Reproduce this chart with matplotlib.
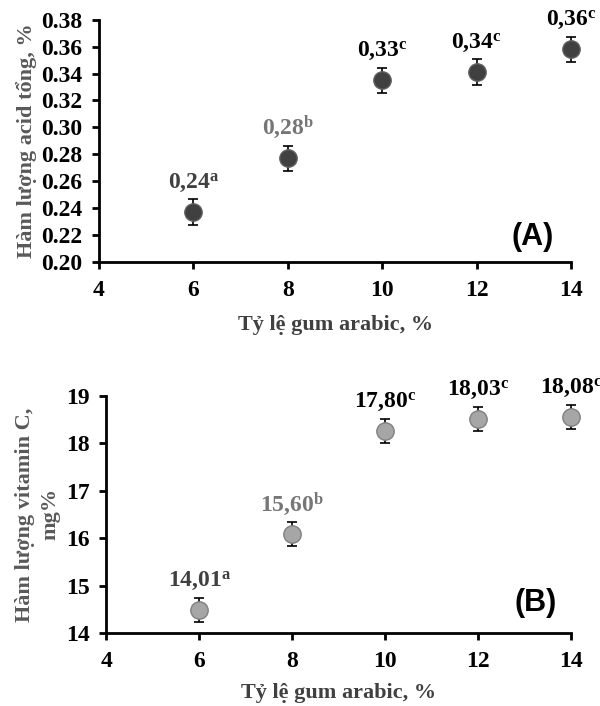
import matplotlib.pyplot as plt

# 数据
gum_ratio = [6, 8, 10, 12, 14]

acid_mean = [0.237, 0.277, 0.335, 0.341, 0.358]
acid_err = [0.0095, 0.0095, 0.0095, 0.0095, 0.0095]
acid_labels = ['0,24', '0,28', '0,33', '0,34', '0,36']
acid_letters = ['a', 'b', 'c', 'c', 'c']

vitc_mean = [14.49, 16.09, 18.26, 18.51, 18.56]
vitc_err = [0.25, 0.25, 0.25, 0.25, 0.25]
vitc_labels = ['14,01', '15,60', '17,80', '18,03', '18,08']
vitc_letters = ['a', 'b', 'c', 'c', 'c']

x_ticks = [4, 6, 8, 10, 12, 14]
acid_ticks = [0.20, 0.22, 0.24, 0.26, 0.28, 0.30, 0.32, 0.34, 0.36, 0.38]
vitc_ticks = [14, 15, 16, 17, 18, 19]

plt.rcParams['font.family'] = ['Liberation Serif', 'DejaVu Serif']
plt.rcParams['font.weight'] = 'bold'
plt.rcParams['mathtext.fontset'] = 'custom'
plt.rcParams['mathtext.rm'] = 'Liberation Serif:bold'
plt.rcParams['mathtext.bf'] = 'Liberation Serif:bold'
plt.rcParams['mathtext.it'] = 'Liberation Serif:bold'

label_colors = ['#404040', '#767676', 'black', 'black', 'black']

fig = plt.figure(figsize=(6, 7.06), dpi=100)
ax1 = fig.add_axes([0.165, 0.629, 0.787, 0.343])
ax2 = fig.add_axes([0.177, 0.1034, 0.775, 0.336])


def style_axis(ax, yticks, ylim, fmt):
    for side in ['top', 'right']:
        ax.spines[side].set_visible(False)
    for side in ['left', 'bottom']:
        ax.spines[side].set_linewidth(2)
    ax.set_xlim(4, 14)
    ax.set_ylim(*ylim)
    ax.set_xticks(x_ticks)
    ax.set_yticks(yticks)
    ax.set_yticklabels([fmt.format(v) for v in yticks])
    ax.tick_params(direction='out', width=2, length=5, labelsize=17)
    ax.tick_params(axis='x', pad=8)
    ax.tick_params(axis='y', pad=7)
    for lab in ax.get_xticklabels() + ax.get_yticklabels():
        lab.set_fontweight('bold')


# (A) 总酸含量
ax1.errorbar(gum_ratio, acid_mean, yerr=acid_err, fmt='o', ms=12.5,
             mfc='#404040', mec='#5f5f5f', ecolor='black', elinewidth=1.2,
             capsize=3.8, capthick=1.2, clip_on=False, zorder=3)
for x, y, e, t, l, c in zip(gum_ratio, acid_mean, acid_err, acid_labels, acid_letters, label_colors):
    ax1.annotate(t + r'$^{\mathrm{' + l + '}}$', (x, y + e), xytext=(0, 8),
                 textcoords='offset points', ha='center', va='baseline',
                 fontsize=17, fontweight='bold', color=c, annotation_clip=False)
style_axis(ax1, acid_ticks, (0.20, 0.38), '{:.2f}')
ax1.set_xlabel('Tỷ lệ gum arabic, %', fontsize=16, fontweight='bold', color='#404040', labelpad=10)
ax1.set_ylabel('Hàm lượng acid tổng, %', fontsize=16, fontweight='bold', color='#595959', labelpad=3)
ax1.text(0.919, 0.103, '(A)', transform=ax1.transAxes, ha='center', va='center',
         fontsize=22, fontweight='bold', family='Liberation Sans')

# (B) 维生素C含量
ax2.errorbar(gum_ratio, vitc_mean, yerr=vitc_err, fmt='o', ms=12.5,
             mfc='#a6a6a6', mec='#808080', ecolor='black', elinewidth=1.2,
             capsize=3.8, capthick=1.2, clip_on=False, zorder=3)
for x, y, e, t, l, c in zip(gum_ratio, vitc_mean, vitc_err, vitc_labels, vitc_letters, label_colors):
    ax2.annotate(t + r'$^{\mathrm{' + l + '}}$', (x, y + e), xytext=(0, 8),
                 textcoords='offset points', ha='center', va='baseline',
                 fontsize=17, fontweight='bold', color=c, annotation_clip=False)
style_axis(ax2, vitc_ticks, (14, 19), '{:d}')
ax2.set_xlabel('Tỷ lệ gum arabic, %', fontsize=16, fontweight='bold', color='#404040', labelpad=8)
ax2.set_ylabel('Hàm lượng vitamin C,\nmg%', fontsize=16, fontweight='bold', color='#595959',
               labelpad=4, linespacing=1.35)
ax2.text(0.923, 0.127, '(B)', transform=ax2.transAxes, ha='center', va='center',
         fontsize=22, fontweight='bold', family='Liberation Sans')

fig.savefig('out.png', dpi=100)
